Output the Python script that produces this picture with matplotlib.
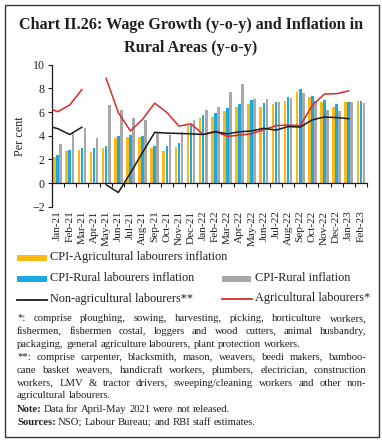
import matplotlib
matplotlib.use('Agg')
import matplotlib.pyplot as plt
import numpy as np
from matplotlib.patches import Rectangle
from matplotlib.lines import Line2D

# ---------------- data ----------------
months = ['Jan-21', 'Feb-21', 'Mar-21', 'Apr-21', 'May-21', 'Jun-21', 'Jul-21', 'Aug-21',
          'Sep-21', 'Oct-21', 'Nov-21', 'Dec-21', 'Jan-22', 'Feb-22', 'Mar-22', 'Apr-22',
          'May-22', 'Jun-22', 'Jul-22', 'Aug-22', 'Sep-22', 'Oct-22', 'Nov-22', 'Dec-22',
          'Jan-23', 'Feb-23']
cpi_al = [2.17, 2.67, 2.78, 2.66, 2.92, 3.83, 3.92, 3.92, 2.94, 2.72, 3.03, 4.81,
          5.50, 5.60, 6.12, 6.43, 6.68, 6.43, 6.66, 6.97, 7.70, 7.23, 6.89, 6.43, 6.89, 6.94]
cpi_rl = [2.35, 2.78, 2.98, 2.92, 3.09, 4.00, 4.07, 3.96, 3.17, 3.11, 3.37, 4.93,
          5.72, 5.95, 6.35, 6.66, 7.03, 6.77, 6.83, 7.28, 7.93, 7.34, 7.03, 6.66, 6.89, 6.94]
cpi_rural = [3.26, 4.19, 4.62, 3.77, 6.57, 6.20, 5.50, 5.30, 4.25, 4.02, 4.30, 5.36,
             6.15, 6.40, 7.70, 8.38, 7.10, 7.10, 6.83, 7.15, 7.60, 6.94, 6.15, 6.09, 6.89, 6.74]
nan = np.nan
agri = [6.02, 6.60, 7.90, nan, 8.85, 5.95, 4.40, 5.38, 6.75, 5.97, 4.81, 5.00,
        4.10, 4.37, 3.94, 4.05, 4.17, 4.50, 4.85, 4.90, 4.85, 6.57, 7.52, 7.55, 7.79, nan]
nonagri = [4.60, 4.10, 4.72, nan, -0.15, -0.80, 0.85, 2.58, 4.28, 4.22, 4.19, 4.16,
           4.10, 4.33, 4.16, 4.33, 4.40, 4.63, 4.47, 4.77, 4.73, 5.34, 5.58, 5.53, 5.44, nan]
agri_start = 6.25      # value at the left edge of the plot
nonagri_start = 4.73

# ---------------- style ----------------
W, H = 382, 443
SERIF = 'Liberation Serif'
C_Y = '#FDB913'
C_B = '#1BA9E1'
C_G = '#A8A8A8'
C_R = '#DA2A2A'
C_K = '#1A1A1A'
TXT = '#231F20'

fig = plt.figure(figsize=(W / 100, H / 100), dpi=100)
r = fig.canvas.get_renderer()


def fx(x):
    return x / W


def fy(y):
    return 1 - y / H


def txt(x, y, s, size, **kw):
    kw.setdefault('family', SERIF)
    kw.setdefault('color', TXT)
    kw.setdefault('va', 'center')
    kw.setdefault('ha', 'left')
    return fig.text(fx(x), fy(y), s, fontsize=size, **kw)


def width_of(s, size, **kw):
    t = txt(0, 0, s, size, **kw)
    w = t.get_window_extent(r).width
    t.remove()
    return w


def fit_size(s, target, **kw):
    return 10 * target / width_of(s, 10, **kw)


# border
fig.patches.append(Rectangle((fx(4.5), fy(436.8)), fx(378.8) - fx(4.5), fy(4.5) - fy(436.8),
                             transform=fig.transFigure, fill=False, lw=1.0, ec='#333333'))

# title
t1 = 'Chart II.26: Wage Growth (y-o-y) and Inflation in'
ts = fit_size(t1, 346, weight='bold')
txt(191, 25, t1, ts, weight='bold', ha='center')
txt(191, 47.5, 'Rural Areas (y-o-y)', ts, weight='bold', ha='center')

# ---------------- axes ----------------
ax = fig.add_axes([51.6 / W, 1 - 206.7 / H, (366.9 - 51.6) / W, (206.7 - 64.7) / H])
x = np.arange(len(months))
bw = 0.215
ax.bar(x - 0.25, cpi_al, bw, color=C_Y, zorder=2)
ax.bar(x, cpi_rl, bw, color=C_B, zorder=2)
ax.bar(x + 0.25, cpi_rural, bw, color=C_G, zorder=2)

xl = -0.5
ax.plot(np.r_[xl, x], np.r_[agri_start, agri], color=C_R, lw=1.1, zorder=3)
ax.plot(np.r_[xl, x], np.r_[nonagri_start, nonagri], color=C_K, lw=1.1, zorder=3)

ax.set_xlim(-0.5, len(months) - 0.5)
ax.set_ylim(-2, 10)
ax.set_yticks(np.arange(-2, 11, 2))
for s in ['top', 'right']:
    ax.spines[s].set_visible(False)
ax.spines['left'].set_color(C_K)
ax.spines['left'].set_linewidth(0.9)
ax.spines['bottom'].set_position(('data', 0))
ax.spines['bottom'].set_color(C_K)
ax.spines['bottom'].set_linewidth(0.9)
ax.set_xticks(x)
ax.set_xticklabels(months, rotation=90, family=SERIF, fontsize=8.1, color=TXT, va='top')
ax.set_xticks(np.arange(-0.5, len(months), 1), minor=True)
ax.tick_params(axis='x', which='major', length=0, pad=19.8)
ax.tick_params(axis='x', which='minor', length=3, width=0.8, direction='out', color=C_K)
ax.tick_params(axis='y', length=3, width=0.8, color=C_K, pad=2, labelsize=8.6)
for lab in ax.get_yticklabels():
    lab.set_family(SERIF)
    lab.set_color(TXT)
ax.set_ylabel('Per cent', family=SERIF, fontsize=8.7, color=TXT, labelpad=4)
ax.patch.set_alpha(0)

# ---------------- legend ----------------
ls = fit_size('CPI-Agricultural labourers inflation', 176)


def patch(x0, x1, yc, color):
    fig.patches.append(Rectangle((fx(x0), fy(yc + 3)), fx(x1) - fx(x0), fy(yc - 3) - fy(yc + 3),
                                 transform=fig.transFigure, color=color, lw=0))


def lline(x0, x1, yc, color):
    fig.lines.append(Line2D([fx(x0), fx(x1)], [fy(yc), fy(yc)], transform=fig.transFigure,
                            color=color, lw=1.3))


patch(17, 47, 257.5, C_Y)
txt(50, 257, 'CPI-Agricultural labourers inflation', ls)
patch(17, 47, 278.5, C_B)
txt(50, 278.3, 'CPI-Rural labourers inflation', ls)
patch(222, 251, 278.5, C_G)
txt(255, 278.3, 'CPI-Rural inflation', ls)
lline(17, 47, 299.5, C_K)
txt(50, 299, 'Non-agricultural labourers**', ls)
lline(222, 252, 298.5, C_R)
txt(255, 298.5, 'Agricultural labourers*', ls)

# ---------------- footnotes ----------------
fs = fit_size('packaging, general agriculture labourers, plant protection workers.', 281)
space = width_of('a a', fs) - width_of('aa', fs)


def line(s, y, justify=True, x0=17, x1=366.5, size=None, weight='normal'):
    size = size or fs
    words = s.split(' ')
    ts_, ws = [], []
    for w in words:
        t = txt(0, y, w, size, weight=weight)
        ts_.append(t)
        ws.append(t.get_window_extent(r).width)
    gap = (x1 - x0 - sum(ws)) / (len(words) - 1) if (justify and len(words) > 1) else space
    xx = x0
    for t, w in zip(ts_, ws):
        t.set_position((fx(xx), fy(y)))
        xx += w + gap
    return xx - gap


lines = [
    ('*: comprise ploughing, sowing, harvesting, picking, horticulture workers,', True),
    ('fishermen, fishermen costal, loggers and wood cutters, animal husbandry,', True),
    ('packaging, general agriculture labourers, plant protection workers.', False),
    ('**: comprise carpenter, blacksmith, mason, weavers, beedi makers, bamboo-', True),
    ('cane basket weavers, handicraft workers, plumbers, electrician, construction', True),
    ('workers, LMV & tractor drivers, sweeping/cleaning workers and other non-', True),
    ('agricultural labourers.', False),
]
y0 = 318.3
for i, (s, j) in enumerate(lines):
    line(s, y0 + 12.95 * i, justify=j)

yn = 409.2
end = line('Note:', yn, justify=False, weight='bold')
line('Data for April-May 2021 were not released.', yn, justify=False, x0=end + space * 0.6)
ys = 422.5
end = line('Sources:', ys, justify=False, weight='bold')
line('NSO; Labour Bureau; and RBI staff estimates.', ys, justify=False, x0=end + space * 0.6)

fig.savefig('out.png', dpi=100)
